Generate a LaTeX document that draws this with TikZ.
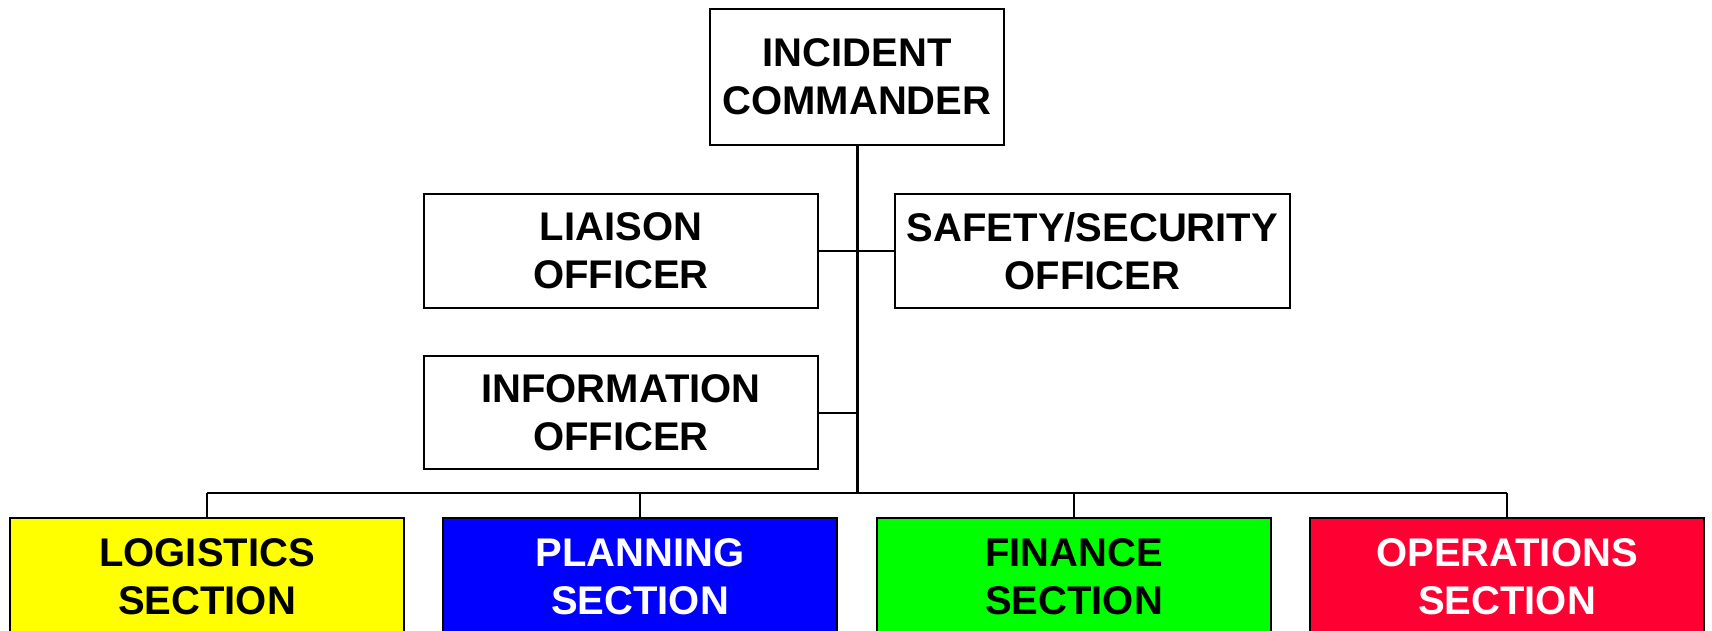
\documentclass[tikz,border=0pt]{standalone}
\usepackage{fontspec}
\setmainfont{Liberation Sans}
\definecolor{secyellow}{RGB}{255,255,0}
\definecolor{secblue}{RGB}{0,0,255}
\definecolor{secgreen}{RGB}{0,255,0}
\definecolor{secred}{RGB}{255,0,51}
\begin{document}
\begin{tikzpicture}[x=1pt,y=-1pt,
  box/.style={draw=black, line width=2pt, rectangle, inner sep=0pt, align=center,
    font=\bfseries\fontsize{40}{48}\selectfont},
  officer/.style={box, minimum width=394pt, minimum height=114pt},
  section/.style={box, minimum width=394pt, minimum height=118pt},
  conn/.style={line width=2pt},
  trunk/.style={line width=3pt}]
\useasboundingbox (0,0) rectangle (1712,630);
\clip (0,0) rectangle (1712,630);
\fill[white] (0,0) rectangle (1712,630);

\node[box, minimum width=294pt, minimum height=136pt] (ic) at (857,77) {INCIDENT\\COMMANDER};
\node[officer] (liaison) at (621,251) {LIAISON\\OFFICER};
\node[officer, minimum width=395pt] (safety) at (1092.5,251) {SAFETY/SECURITY\\OFFICER};
\node[officer, minimum height=113pt] (info) at (621,412.5) {INFORMATION\\OFFICER};

\node[section, fill=secyellow] (log) at (207,577) {LOGISTICS\\SECTION};
\node[section, fill=secblue, text=white] (plan) at (640,577) {PLANNING\\SECTION};
\node[section, fill=secgreen] (fin) at (1074,577) {FINANCE\\SECTION};
\node[section, fill=secred, text=white] (ops) at (1507,577) {OPERATIONS\\SECTION};

\coordinate (bus) at (857,493);
\draw[trunk] (ic.south) -- (bus);
\draw[conn] (liaison.east) -- (safety.west);
\draw[conn] (info.east) -- (info.east -| bus);
\draw[conn] (log.north |- bus) -- (ops.north |- bus);
\draw[conn] (log.north |- bus) -- (log.north);
\draw[conn] (plan.north |- bus) -- (plan.north);
\draw[conn] (fin.north |- bus) -- (fin.north);
\draw[conn] (ops.north |- bus) -- (ops.north);
\end{tikzpicture}
\end{document}
